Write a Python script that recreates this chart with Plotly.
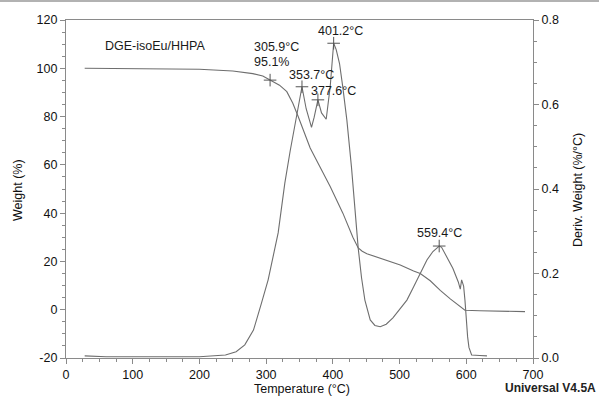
import plotly.graph_objects as go

# ---- data ----
temp_w = [28, 100, 200, 250, 280, 295, 305.9, 320, 331, 340, 348, 357, 366, 380, 396, 415, 430,
          438, 444, 451, 461, 471, 486, 501, 521, 531, 546, 561, 576, 586, 591, 598, 620, 660, 688]
weight = [100, 99.9, 99.6, 98.9, 97.8, 96.8, 95.1, 93.0, 90.3, 85.5, 80.0, 73.5, 67.0, 59.5, 51.0,
          40.0, 30.0, 25.6, 24.2, 23.2, 22.3, 21.5, 20.0, 18.5, 16.0, 15.0, 12.0, 8.0, 4.5, 2.5,
          1.5, -0.2, -0.4, -0.5, -0.8]

temp_d = [28, 60, 100, 150, 200, 239, 255, 268, 281, 293, 303, 318, 328, 336, 346, 353.7, 360,
          368, 372, 377.6, 383, 390, 396, 401.2, 405, 410, 415, 421, 428, 433, 438, 443, 448, 456,
          463, 471, 480, 490, 500, 511, 520, 528, 541, 550, 559.4, 563, 571, 580, 588, 591, 593,
          596, 598, 600, 602, 604, 608, 620, 631]
deriv = [0.005, 0.003, 0.003, 0.003, 0.003, 0.007, 0.015, 0.031, 0.066, 0.13, 0.185, 0.296,
         0.414, 0.49, 0.58, 0.642, 0.59, 0.546, 0.57, 0.611, 0.58, 0.565, 0.642, 0.745, 0.73,
         0.697, 0.64, 0.563, 0.45, 0.35, 0.26, 0.19, 0.137, 0.09, 0.077, 0.074, 0.08, 0.095,
         0.114, 0.137, 0.165, 0.19, 0.232, 0.252, 0.265, 0.262, 0.24, 0.212, 0.18, 0.163, 0.185,
         0.17, 0.137, 0.09, 0.05, 0.025, 0.007, 0.006, 0.005]

onset_temp = [305.9]
onset_weight = [95.1]
peak_temps = [353.7, 377.6, 401.2, 559.4]
peak_derivs = [0.642, 0.611, 0.745, 0.265]

x_ticks = [0, 100, 200, 300, 400, 500, 600, 700]
y_ticks = [-20, 0, 20, 40, 60, 80, 100, 120]
y_tick_labels = ["-20", "0", "20", "40", "60", "80", "100", "120"]
y2_ticks = [0.0, 0.2, 0.4, 0.6, 0.8]
y2_tick_labels = ["0.0", "0.2", "0.4", "0.6", "0.8"]

sample_name = "DGE-isoEu/HHPA"
version_text = "Universal V4.5A"

# ---- styling ----
FONT = "Liberation Sans, Arial, sans-serif"
LINE = "#6e6e6e"
AXIS = "#8a8a8a"
FS = 12.5
PW, PH = 467, 338  # plot area size in px

fig = go.Figure()
fig.add_trace(go.Scatter(x=temp_w, y=weight, mode="lines", line=dict(color=LINE, width=1.1),
                         showlegend=False, hoverinfo="skip"))
fig.add_trace(go.Scatter(x=temp_d, y=deriv, mode="lines", line=dict(color=LINE, width=1.1),
                         yaxis="y2", showlegend=False, hoverinfo="skip"))
fig.add_trace(go.Scatter(x=onset_temp, y=onset_weight, mode="markers",
                         marker=dict(symbol="cross-thin", size=9, line=dict(color="#555", width=1)),
                         showlegend=False, hoverinfo="skip"))
fig.add_trace(go.Scatter(x=peak_temps, y=peak_derivs, mode="markers", yaxis="y2",
                         marker=dict(symbol="cross-thin", size=9, line=dict(color="#555", width=1)),
                         showlegend=False, hoverinfo="skip"))

ann = []
def txt(text, x, y, xanchor="center"):
    ann.append(dict(text=text, x=x, y=y, xref="x", yref="y", xanchor=xanchor, yanchor="middle",
                    showarrow=False, font=dict(family=FONT, size=FS, color="#1a1a1a")))

txt(sample_name, 133, 109.2)
txt(f"{onset_temp[0]:.1f}°C", 278.7, 108.8, xanchor="left")
txt(f"{onset_weight[0]:.1f}%", 278.7, 102.6, xanchor="left")
label_pos = [(368, 97.2), (401.3, 90.6), (410.7, 115.4), (560, 31.8)]
for t, (lx, ly) in zip(peak_temps, label_pos):
    txt(f"{t:.1f}°C", lx, ly)

ann.append(dict(text="<b>" + version_text + "</b>", x=1 + 65 / PW, y=-30 / PH, xref="paper",
                yref="paper", xanchor="right", yanchor="middle", showarrow=False,
                font=dict(family=FONT, size=12, color="#222")))
ann.append(dict(text="Temperature (°C)", x=(302 - 66) / PW, y=-31 / PH, xref="paper", yref="paper",
                xanchor="center", yanchor="middle", showarrow=False,
                font=dict(family=FONT, size=FS, color="#111")))
ann.append(dict(text="Weight (%)", x=-(66 - 18) / PW, y=(358 - 190) / PH, xref="paper",
                yref="paper", xanchor="center", yanchor="middle", textangle=-90, showarrow=False,
                font=dict(family=FONT, size=FS, color="#111")))
ann.append(dict(text="Deriv. Weight (%/°C)", x=1 + (578 - 533) / PW, y=(358 - 190) / PH,
                xref="paper", yref="paper", xanchor="center", yanchor="middle", textangle=-90,
                showarrow=False, font=dict(family=FONT, size=FS, color="#111")))

axis_common = dict(showline=True, linecolor=AXIS, linewidth=1.2, ticks="outside", ticklen=5,
                   tickwidth=1, tickcolor=AXIS, showgrid=False, zeroline=False, automargin=False,
                   tickfont=dict(family=FONT, size=FS, color="#111"))

fig.update_layout(
    width=599, height=396,
    margin=dict(l=66, r=66, t=20, b=38, autoexpand=False),
    paper_bgcolor="white", plot_bgcolor="white",
    font=dict(family=FONT, size=FS, color="#111"),
    xaxis=dict(range=[0, 700], tickvals=x_ticks, mirror=True,
               minor=dict(dtick=25, ticklen=3, tickcolor=AXIS, ticks="outside"),
               **axis_common),
    yaxis=dict(range=[-20, 120], tickvals=y_ticks, ticktext=y_tick_labels,
               minor=dict(dtick=5, ticklen=3, tickcolor=AXIS, ticks="outside"),
               **axis_common),
    yaxis2=dict(range=[0, 0.8], tickvals=y2_ticks, ticktext=y2_tick_labels, overlaying="y",
                side="right",
                minor=dict(dtick=0.05, ticklen=3, tickcolor=AXIS, ticks="outside"),
                **axis_common),
    annotations=ann,
    shapes=[dict(type="line", xref="paper", yref="paper", x0=-66 / PW, x1=1 + 66 / PW,
                 y0=1 + 19 / PH, y1=1 + 19 / PH, line=dict(color="#999", width=1.5))],
)

fig.write_html("out.html", config={"displayModeBar": False},
               post_script="document.body.style.margin='0';document.body.style.overflow='hidden';")
